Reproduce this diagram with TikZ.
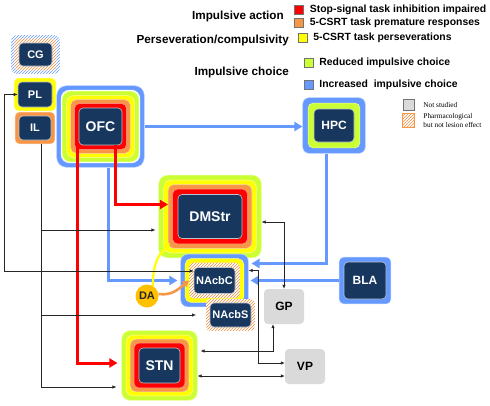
\documentclass[tikz,border=0pt]{standalone}
\usepackage{fontspec}
\setmainfont{Liberation Sans}
\newfontfamily\legserif{Liberation Serif}
\usetikzlibrary{arrows.meta,positioning,fit,backgrounds,patterns}
\definecolor{navy}{RGB}{23,55,94}
\definecolor{stopsig}{RGB}{255,0,0}
\definecolor{prem}{RGB}{247,150,70}
\definecolor{persev}{RGB}{255,255,0}
\definecolor{reduced}{RGB}{204,255,51}
\definecolor{incr}{RGB}{102,153,255}
\definecolor{notst}{RGB}{218,218,218}
\definecolor{gold}{RGB}{255,192,0}
\definecolor{hatch}{RGB}{240,140,60}
\newcommand\fsz[1]{\fontsize{#1}{#1}\selectfont}
\tikzset{
  >={Latex[length=4pt,width=3.4pt]},
  core/.style={fill=navy,draw=white!70!navy,line width=0.6pt,rounded corners=4pt,
    text=white,font=\fsz{#1}\bfseries,inner sep=0pt},
  core/.default=14,
  ring/.style={fill=#1,draw=white!60!#1,line width=0.5pt},
  hatched/.style={preaction={fill=white},pattern=north east lines,pattern color=#1,draw=none},
  hatched/.default=hatch,
  grey box/.style={fill=notst,rounded corners=4pt,font=\fsz{12}\bfseries,inner sep=0pt,
    minimum width=40pt,minimum height=35pt},
  flow/.style={-{Triangle[length=8pt,width=9pt]},line width=3pt,draw=#1},
  link/.style={line width=0.6pt,draw=black!85},
  head/.style={font=\fsz{11.7}\bfseries,inner sep=0pt},
  key/.style={fill=#1,draw=black!55,line width=0.5pt,minimum size=9pt,inner sep=0pt},
  keytext/.style={font=\fsz{10.4}\bfseries,inner sep=0pt},
  note/.style={font=\legserif\fontsize{7.3}{9.5}\selectfont,align=left,inner sep=0pt},
}
% coloured frame round a region: [style]{region}{colour}{distance}
\newcommand\halo[4][ring]{\pgfmathsetmacro\rr{3+0.3*#4}%
  \node[#1=#3,fit=(#2),inner sep=#4pt,rounded corners=\rr pt] (#2-#3) {};}

\begin{document}
\begin{tikzpicture}[x=1pt,y=-1pt]
  \useasboundingbox (0,0) rectangle (490,405);
  % legend
  \node[head,anchor=east] (h-action) at (284,16) {Impulsive action};
  \node[head,anchor=east] (h-persev) at (289,40) {Perseveration/compulsivity};
  \node[head,anchor=east] (h-choice) at (289,72) {Impulsive choice};
  \foreach \c/\x/\y/\t in {stopsig/299/10/Stop-signal task inhibition impaired,
      prem/299/23/5-CSRT task premature responses,
      persev/302.5/38/5-CSRT task perseverations,
      reduced/308.5/62.5/Reduced impulsive choice,
      incr/308.5/84.5/Increased\ \ impulsive choice}{
    \node[key=\c] (key-\c) at (\x,\y) {};
    \node[keytext,right=6pt of key-\c] (lab-\c) {\t};
  }
  \node[key=notst,minimum size=11pt] (key-ns) at (408.5,104.5) {};
  \node[note,right=9pt of key-ns] (lab-ns) {Not studied};
  \node[key=white,hatched,draw=prem,minimum width=12pt,minimum height=14pt] (key-ph) at (408,120.5) {};
  \node[note,right=9pt of key-ph] (lab-ph) {Pharmacological\\but not lesion effect};

  % regions
  \node[core=11,minimum width=33pt,minimum height=23pt] (cg) at (35.5,54.5) {CG};
  \node[core=11,minimum width=34pt,minimum height=25pt] (pl) at (35,94.5) {PL};
  \node[core=11,minimum width=32pt,minimum height=24pt] (il) at (35,128) {IL};
  \node[core,minimum width=43pt,minimum height=37pt] (ofc) at (100.5,126.5) {OFC};
  \node[core=12,minimum width=40pt,minimum height=33pt] (hpc) at (334,125.5) {HPC};
  \node[core,minimum width=64pt,minimum height=44pt] (dmstr) at (210,216.5) {DMStr};
  \node[core=11,minimum width=41pt,minimum height=26pt] (nacbc) at (214.5,280.5) {NAcbC};
  \node[core=11,minimum width=41pt,minimum height=24pt] (nacbs) at (230.5,315) {NAcbS};
  \node[core=12,minimum width=42pt,minimum height=37pt] (bla) at (365,280.5) {BLA};
  \node[core,minimum width=41pt,minimum height=35pt] (stn) at (159.5,365.5) {STN};
  \node[grey box] (gp) at (284,306.5) {GP};
  \node[grey box] (vp) at (305,366.5) {VP};
  \node[circle,fill=gold,minimum size=23pt,inner sep=0pt,font=\fsz{11}\bfseries,text=black!85] (da) at (147,296) {DA};

  \begin{scope}[on background layer]
    \halo[hatched]{cg}{incr}{7.5}
    \halo[hatched]{cg}{hatch}{4}
    \halo{pl}{persev}{3.5}
    \halo{il}{prem}{3.5}
    \foreach \c/\s in {incr/22,white/17.5,reduced/16.5,persev/12,prem/8,stopsig/4}
      {\halo{ofc}{\c}{\s}}
    \foreach \c/\s in {incr/11,reduced/5.5} {\halo{hpc}{\c}{\s}}
    \foreach \c/\s in {reduced/19,persev/14,prem/9.5,stopsig/5} {\halo{dmstr}{\c}{\s}}
    \foreach \c/\s in {reduced/17,persev/12.5,prem/8.5,stopsig/4.5} {\halo{stn}{\c}{\s}}
    \foreach \c/\s in {incr/13,persev/8.5} {\halo{nacbc}{\c}{\s}}
    \halo[hatched]{nacbc}{hatch}{4.5}
    \halo[hatched]{nacbs}{hatch}{3.5}
    \halo{bla}{incr}{4.5}
  \end{scope}

  % thick projections
  \draw[flow=incr] (ofc-incr.east) -- (ofc-incr.east -| hpc-incr.west);
  \draw[flow=incr,shorten >=3pt] ([xshift=7.5pt]ofc-incr.south) |- (nacbc-incr.west);
  \draw[flow=incr,shorten >=3pt] ([xshift=-8pt]hpc-incr.south) |- ([yshift=17pt]nacbc-incr.east);
  \draw[flow=incr,shorten >=2pt] (bla-incr.west) -- (bla-incr.west -| nacbc-incr.east);
  \draw[flow=stopsig,shorten >=4pt] ([xshift=-1.5pt]ofc.south west) |- ([yshift=2.5pt]stn-reduced.west);
  \draw[flow=stopsig] ([xshift=-7pt]ofc.south east) |- ([yshift=12pt]dmstr-prem.west);
  \draw[flow=persev,line width=2.2pt,-{Triangle[length=6pt,width=7pt]}] (da.60)
    .. controls +(0,-28) and +(-8,10) .. ([shift={(-8pt,-4pt)}]dmstr.south west);
  \draw[flow=prem,line width=2.6pt,-{Triangle[length=6pt,width=7pt]}] (da.10)
    .. controls +(14,2) and +(-10,8) .. (nacbc-hatch.west);

  % thin connections
  \draw[link,<->] (pl.west) -- ++(-13,0) |- ([yshift=9.5pt]nacbc.west);
  \draw[link,->,shorten >=3pt] ([xshift=6pt]il-prem.south) |- ([yshift=-13.5pt]dmstr-reduced.west);
  \draw[link,->,shorten >=10pt] ([xshift=6pt]il-prem.south) |- (nacbs-hatch.west);
  \draw[link,->,shorten >=5pt] ([xshift=6pt]il-prem.south) |- ([yshift=-21.5pt]stn-reduced.west);
  \draw[link,<->] ([yshift=-5.5pt]dmstr-reduced.east) -| (gp.north);
  \draw[link,<->] ([yshift=10pt]nacbc-incr.east) -- ++(10,0) |- ([yshift=3.5pt]vp.west);
  \draw[link,<->,shorten <=3pt] ([yshift=14.5pt]stn-reduced.east) -| ([xshift=-11pt]gp.south);
  \draw[link,<->] ([yshift=-10.5pt]stn-reduced.east) -- ([yshift=-10.5pt]stn-reduced.east -| vp.west);
\end{tikzpicture}
\end{document}
